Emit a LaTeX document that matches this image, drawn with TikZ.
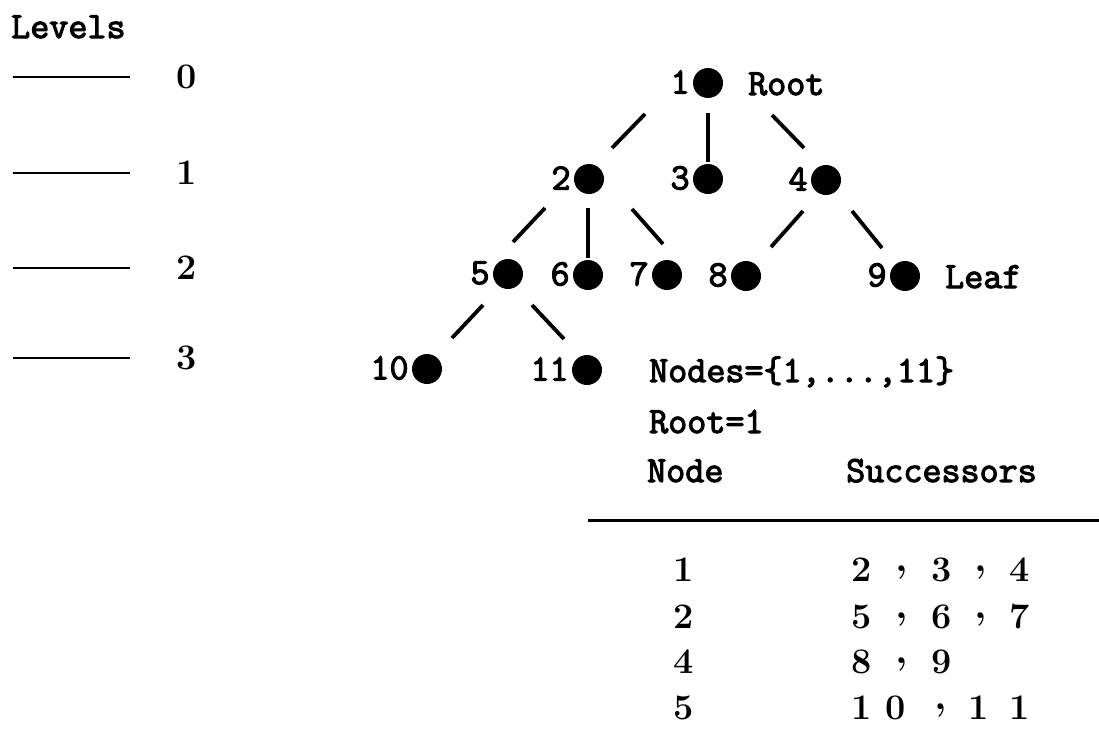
\documentclass[tikz,border=0pt]{standalone}
\usepackage{fontspec}
\newfontfamily\monob[FakeBold=3]{Latin Modern Mono}
\usetikzlibrary{calc}
\begin{document}
\begin{tikzpicture}[x=1pt,y=-1pt,
  dot/.style={circle, fill=black, inner sep=0pt, minimum size=30pt},
  mono/.style={font=\fontsize{37}{40}\selectfont\monob, inner sep=0pt},
  num/.style={font=\fontsize{36}{40}\selectfont\bfseries, inner sep=0pt},
  comma/.style={font=\fontsize{40}{40}\selectfont\bfseries, inner sep=0pt, text height=4pt, text depth=8pt},
  edge/.style={line width=3.8pt},
  lev/.style={line width=2.5pt},
  rule/.style={line width=3pt}]
\useasboundingbox (0,0) rectangle (1099,731);

% Levels legend
\node[mono, anchor=base west] (levels) at (11,38) {Levels};
\foreach \i/\y in {0/77,1/173,2/268,3/358}{
  \coordinate (ls\i) at (13,\y);
  \coordinate (le\i) at (130,\y);
  \draw[lev] (ls\i) -- (le\i);
  \node[num] (lv\i) at (187,\y) {\i};
}

% Tree nodes
\node[dot] (n1) at (708,83) {};
\node[dot] (n2) at (589,179) {};
\node[dot] (n3) at (708,179) {};
\node[dot] (n4) at (826,180) {};
\node[dot] (n5) at (508,274) {};
\node[dot] (n6) at (588,275) {};
\node[dot] (n7) at (667,275) {};
\node[dot] (n8) at (746,276) {};
\node[dot] (n9) at (905,276) {};
\node[dot] (n10) at (427,369) {};
\node[dot] (n11) at (587,370) {};

\foreach \k in {1,...,11}{
  \node[mono, anchor=east] (t\k) at ($(n\k.west)+(-3,-1)$) {\k};
}

\node[mono, anchor=base west] (rootlbl) at (748,95) {Root};
\node[mono, anchor=base west] (leaflbl) at (945,288) {Leaf};

% Edges
\draw[edge] ($(n1)+(-63,31)$) -- ($(n2)+(23,-31)$);
\draw[edge] ($(n1)+(0,30)$) -- ($(n3)+(0,-17)$);
\draw[edge] ($(n1)+(64,32)$) -- ($(n4)+(-22,-32)$);
\draw[edge] ($(n2)+(-44,29)$) -- ($(n5)+(5,-32)$);
\draw[edge] ($(n2)+(-1,29)$) -- ($(n6)+(0,-17)$);
\draw[edge] ($(n2)+(43,30)$) -- ($(n7)+(-4,-31)$);
\draw[edge] ($(n4)+(-23,31)$) -- ($(n8)+(25,-29)$);
\draw[edge] ($(n4)+(26,31)$) -- ($(n9)+(-23,-28)$);
\draw[edge] ($(n5)+(-25,31)$) -- ($(n10)+(25,-31)$);
\draw[edge] ($(n5)+(24,31)$) -- ($(n11)+(-23,-31)$);

% Text block
\node[mono, anchor=base west] (nodesset) at (649,382) {Nodes=\{1,...,11\}};
\node[mono, anchor=base west] (rooteq) at (649,433) {Root=1};
\node[mono, anchor=base west] (hnode) at (647,482) {Node};
\node[mono, anchor=base west] (hsucc) at (846,482) {Successors};

\coordinate (rs) at (588,520);
\coordinate (re) at (1099,520);
\draw[rule] (rs) -- (re);

% Table
\node[num] (c1) at (684,570) {1};
\node[num] (c2) at (684,617) {2};
\node[num] (c4) at (684,662) {4};
\node[num] (c5) at (684,708) {5};

\node[num] (s1a) at (862,570) {2};
\node[comma] (s1b) at (902,573) {,};
\node[num] (s1c) at (942,570) {3};
\node[comma] (s1d) at (981,573) {,};
\node[num] (s1e) at (1020,570) {4};

\node[num] (s2a) at (862,617) {5};
\node[comma] (s2b) at (902,620) {,};
\node[num] (s2c) at (942,617) {6};
\node[comma] (s2d) at (981,620) {,};
\node[num] (s2e) at (1020,617) {7};

\node[num] (s3a) at (862,662) {8};
\node[comma] (s3b) at (902,665) {,};
\node[num] (s3c) at (942,662) {9};

\node[num] (s4a) at (862,708) {1};
\node[num] (s4b) at (896,708) {0};
\node[comma] (s4c) at (941,711) {,};
\node[num] (s4d) at (979,708) {1};
\node[num] (s4e) at (1020,708) {1};
\end{tikzpicture}
\end{document}
